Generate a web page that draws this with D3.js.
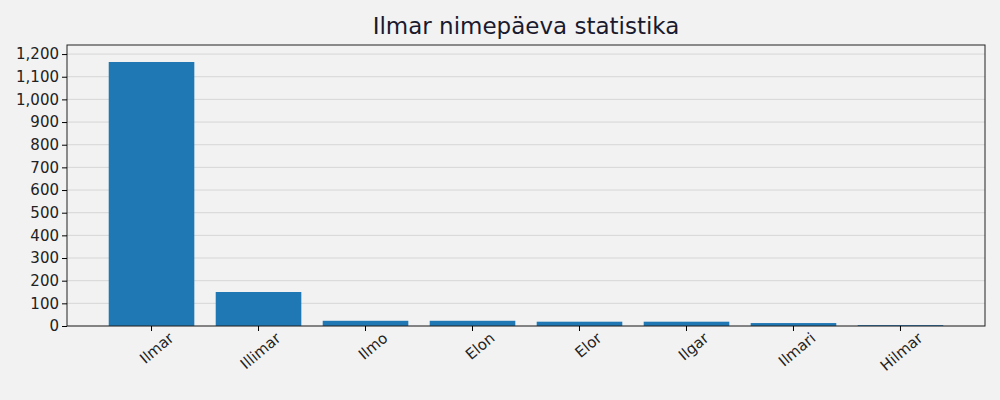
<!DOCTYPE html>
<html>
<head>
<meta charset="utf-8">
<script src="https://cdn.jsdelivr.net/npm/d3@7"></script>
<style>
  body { margin: 0; background: #f2f2f2; }
  text { font-family: "DejaVu Sans", sans-serif; }
</style>
</head>
<body>
<div id="wrapper"></div>
<script>
const names = ["Ilmar", "Illimar", "Ilmo", "Elon", "Elor", "Ilgar", "Ilmari", "Hilmar"];
const counts = [1165, 150, 23, 23, 19, 19, 13, 4];
const yTicks = d3.range(0, 1201, 100);

const width = 1000, height = 400;
const margin = { top: 45, right: 15, bottom: 74, left: 67 };

const svg = d3.select("#wrapper").append("svg")
    .attr("width", width).attr("height", height)
    .style("background", "#f2f2f2");

const x = d3.scaleBand()
    .domain(names)
    .range([margin.left, width - margin.right])
    .paddingInner(0.2)
    .paddingOuter(0.39);

const y = d3.scaleLinear()
    .domain([0, 1240])
    .range([height - margin.bottom, margin.top]);

// grid
svg.append("g")
    .selectAll("line")
    .data(yTicks)
    .join("line")
    .attr("x1", margin.left).attr("x2", width - margin.right)
    .attr("y1", d => y(d)).attr("y2", d => y(d))
    .attr("stroke", "#d6d6d6").attr("stroke-width", 1);

svg.append("g")
    .selectAll("rect")
    .data(names)
    .join("rect")
    .attr("x", d => x(d))
    .attr("width", x.bandwidth())
    .attr("y", (d, i) => y(counts[i]))
    .attr("height", (d, i) => y(0) - y(counts[i]))
    .attr("fill", "#1f77b4");

// frame
svg.append("rect")
    .attr("x", margin.left).attr("y", margin.top)
    .attr("width", width - margin.left - margin.right)
    .attr("height", height - margin.top - margin.bottom)
    .attr("fill", "none").attr("stroke", "#222").attr("stroke-width", 1);

const xAxis = svg.append("g")
    .attr("transform", `translate(0,${height - margin.bottom})`)
    .call(d3.axisBottom(x).tickSize(5).tickPadding(4));
xAxis.select(".domain").remove();
xAxis.selectAll("text")
    .style("font-size", "15px").attr("fill", "#222")
    .attr("text-anchor", "end")
    .attr("dx", "0.6em").attr("dy", "1.1em")
    .attr("transform", "rotate(-40)");

const yAxis = svg.append("g")
    .attr("transform", `translate(${margin.left},0)`)
    .call(d3.axisLeft(y).tickValues(yTicks).tickSize(5).tickPadding(3));
yAxis.select(".domain").remove();
yAxis.selectAll("text").style("font-size", "15px").attr("fill", "#222");

svg.append("text")
    .attr("x", (margin.left + width - margin.right) / 2)
    .attr("y", 34)
    .attr("text-anchor", "middle")
    .style("font-size", "23px")
    .attr("fill", "#1a1a2e")
    .text("Ilmar nimepäeva statistika");
</script>
</body>
</html>
